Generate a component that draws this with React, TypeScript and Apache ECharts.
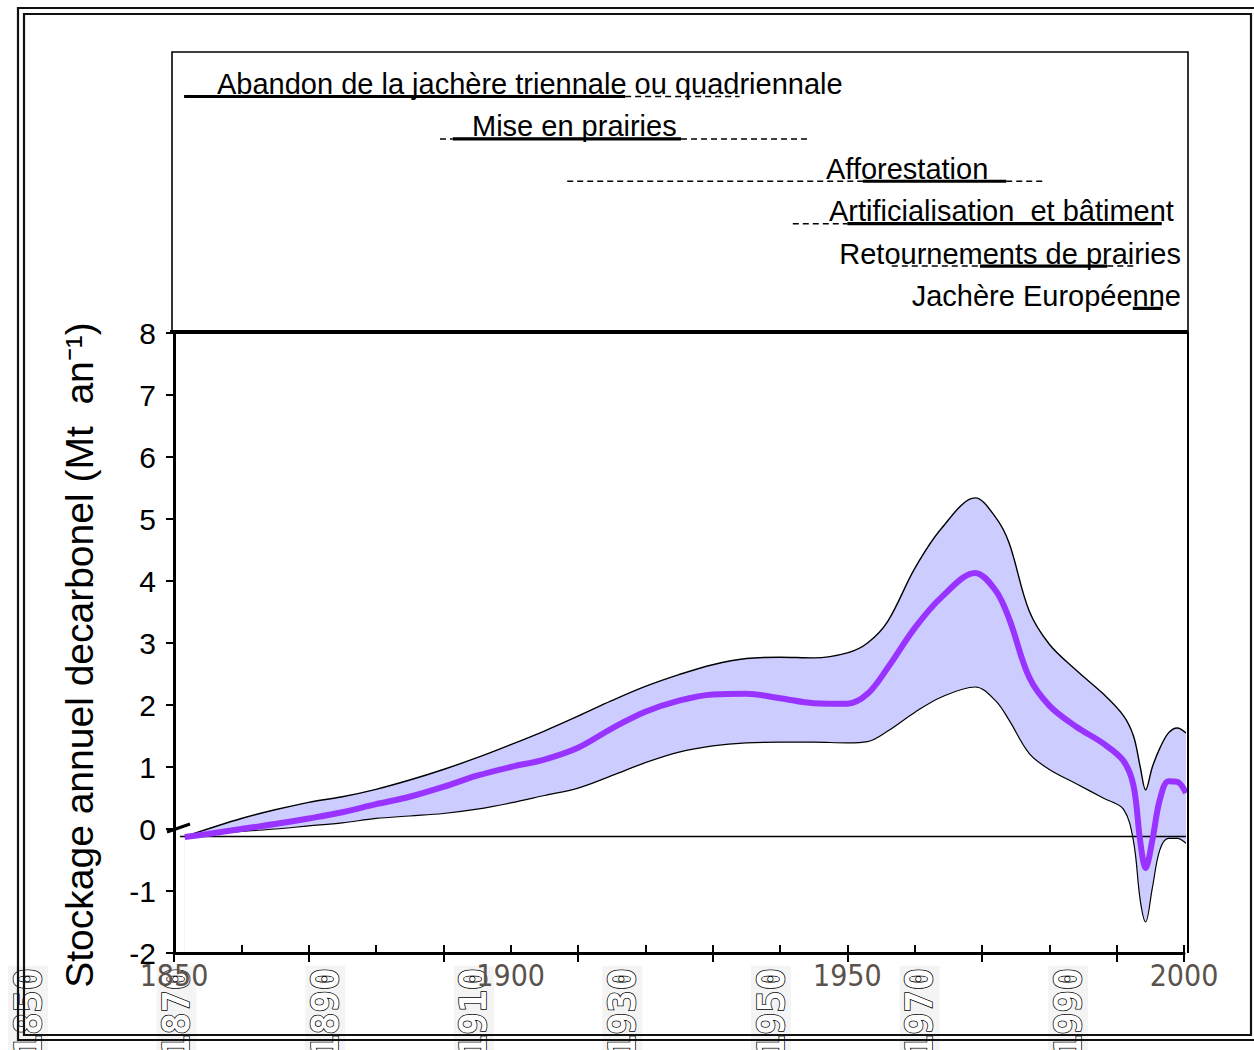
import React, { useEffect, useRef } from "react";
import * as echarts from "echarts";

// ---- data (years on x, Mt C per year on y) ----
const years = [1851.6, 1855, 1860, 1865, 1870, 1875, 1880, 1885, 1890, 1895, 1900, 1905, 1910, 1915, 1920, 1925, 1930, 1935, 1940, 1945, 1950, 1953, 1956, 1960, 1964, 1969, 1972, 1974, 1977, 1980, 1984, 1988, 1991, 1992.5, 1993.5, 1994.3, 1995.3, 1996.4, 1997.7, 1999, 2000.3];
const upperBound = [-0.12, 0.0, 0.17, 0.31, 0.43, 0.52, 0.64, 0.79, 0.96, 1.15, 1.36, 1.58, 1.82, 2.07, 2.3, 2.49, 2.65, 2.75, 2.77, 2.76, 2.84, 3.0, 3.35, 4.2, 4.85, 5.34, 5.03, 4.62, 3.52, 2.98, 2.56, 2.18, 1.83, 1.5, 1.0, 0.63, 1.0, 1.3, 1.55, 1.63, 1.55];
const meanStorage = [-0.13, -0.08, 0.0, 0.08, 0.17, 0.27, 0.4, 0.52, 0.68, 0.86, 1.0, 1.12, 1.31, 1.62, 1.89, 2.07, 2.17, 2.18, 2.11, 2.03, 2.02, 2.18, 2.6, 3.24, 3.74, 4.13, 3.85, 3.4, 2.45, 1.99, 1.65, 1.38, 1.1, 0.7, -0.2, -0.63, -0.18, 0.47, 0.77, 0.76, 0.58];
const lowerBound = [-0.13, -0.09, -0.04, 0.0, 0.05, 0.1, 0.17, 0.21, 0.25, 0.32, 0.42, 0.54, 0.66, 0.86, 1.07, 1.24, 1.34, 1.39, 1.4, 1.4, 1.39, 1.41, 1.58, 1.88, 2.13, 2.29, 2.07, 1.76, 1.22, 0.96, 0.73, 0.5, 0.32, -0.2, -1.15, -1.5, -0.95, -0.34, -0.15, -0.15, -0.23];
const zeroLineValue = -0.12;
const zeroLineYears = [1850.9, 2001.6];

const yMin = -2;
const yMax = 8;
const xMin = 1850;
const xMax = 2000;
const xLabelYears = [1850, 1900, 1950, 2000];

// activities timeline (row index, start year, end year)
const activities = [
  "Abandon de la jachère triennale ou quadriennale",
  "Mise en prairies",
  "Afforestation",
  "Artificialisation  et bâtiment",
  "Retournements de prairies",
  "Jachère Européenne",
];
const solidPeriods = [
  [0, 1851.5, 1917],
  [1, 1891.4, 1925.3],
  [2, 1952.3, 1973.6],
  [3, 1950, 1996.7],
  [4, 1969.7, 1988.6],
  [5, 1992.4, 1996.7],
];
const dashedPeriods = [
  [0, 1917, 1934],
  [1, 1889.5, 1891.4],
  [1, 1925.3, 1944.2],
  [2, 1908.4, 1952.3],
  [2, 1973.6, 1979.4],
  [3, 1941.9, 1950],
  [4, 1956.6, 1969.7],
  [4, 1988.6, 1992.9],
];

const stripLabels = ["1850", "1870", "1890", "1910", "1930", "1950", "1970", "1990"];

// ---- layout ----
const activityLabelPos = [
  { x: 217, y: 84, align: "left" },
  { x: 472, y: 126, align: "left" },
  { x: 826, y: 169, align: "left" },
  { x: 829, y: 211, align: "left" },
  { x: 1181, y: 254, align: "right" },
  { x: 1181, y: 296, align: "right" },
];

const FONT = '"Liberation Sans", Arial, sans-serif';

function buildOption() {
  const pair = (arr: number[]) => years.map((y, i) => [y, arr[i]]);

  const series: any[] = [
    {
      type: "line",
      xAxisIndex: 0,
      yAxisIndex: 0,
      data: pair(upperBound),
      smooth: 0.35,
      showSymbol: false,
      lineStyle: { color: "#000", width: 1.4 },
      areaStyle: { color: "#ccccff", opacity: 1, origin: "start" },
      z: 2,
    },
    {
      type: "line",
      xAxisIndex: 0,
      yAxisIndex: 0,
      data: pair(lowerBound),
      smooth: 0.35,
      showSymbol: false,
      lineStyle: { color: "#000", width: 1.2 },
      areaStyle: { color: "#ffffff", opacity: 1, origin: "start" },
      z: 3,
    },
    {
      type: "line",
      xAxisIndex: 0,
      yAxisIndex: 0,
      data: zeroLineYears.map((x) => [x, zeroLineValue]),
      clip: false,
      showSymbol: false,
      lineStyle: { color: "#000", width: 1.5 },
      z: 4,
    },
    {
      type: "line",
      xAxisIndex: 0,
      yAxisIndex: 0,
      data: pair(meanStorage),
      smooth: 0.35,
      showSymbol: false,
      lineStyle: { color: "#9933ff", width: 6 },
      z: 5,
    },
  ];

  solidPeriods.forEach(([row, a, b]) => {
    series.push({
      type: "line",
      xAxisIndex: 2,
      yAxisIndex: 1,
      data: [
        [a, row],
        [b, row],
      ],
      showSymbol: false,
      lineStyle: { color: "#000", width: 3.2 },
      z: 3,
    });
  });
  dashedPeriods.forEach(([row, a, b]) => {
    series.push({
      type: "line",
      xAxisIndex: 2,
      yAxisIndex: 1,
      data: [
        [a, row],
        [b, row],
      ],
      showSymbol: false,
      lineStyle: { color: "#000", width: 1.5, type: [6, 4] },
      z: 3,
    });
  });

  const graphics: any[] = [];

  // grey strips with rotated years at the bottom
  stripLabels.forEach((t, i) => {
    const cx = 28 + 148.6 * i;
    graphics.push({
      type: "rect",
      shape: { x: cx - 20, y: 966, width: 40, height: 90 },
      style: { fill: "#f4f4f4" },
      z: 0,
    });
    graphics.push({
      type: "text",
      x: cx,
      y: 968,
      rotation: Math.PI / 2,
      style: {
        text: t,
        font: 'bold 37px "DejaVu Sans Mono", monospace',
        fill: "#ffffff",
        stroke: "#000",
        lineWidth: 1.5,
        align: "right",
        verticalAlign: "middle",
      },
      z: 1,
    });
  });

  // frames
  graphics.push({
    type: "rect",
    shape: { x: 18, y: 8, width: 1250, height: 1032 },
    style: { fill: "none", stroke: "#111", lineWidth: 2.2 },
    z: 20,
  });
  graphics.push({
    type: "rect",
    shape: { x: 24, y: 14, width: 1227, height: 1021 },
    style: { fill: "none", stroke: "#111", lineWidth: 2.2 },
    z: 20,
  });
  graphics.push({
    type: "rect",
    shape: { x: 172, y: 52, width: 1016, height: 281 },
    style: { fill: "none", stroke: "#000", lineWidth: 1.6 },
    z: 20,
  });
  graphics.push({
    type: "line",
    shape: { x1: 170, y1: 332, x2: 1188, y2: 332 },
    style: { stroke: "#000", lineWidth: 4 },
    z: 20,
  });
  graphics.push({
    type: "line",
    shape: { x1: 1188, y1: 332, x2: 1188, y2: 953 },
    style: { stroke: "#000", lineWidth: 2 },
    z: 20,
  });
  graphics.push({
    type: "line",
    shape: { x1: 167, y1: 832, x2: 190, y2: 824 },
    style: { stroke: "#000", lineWidth: 3 },
    z: 20,
  });

  // y axis title
  graphics.push({
    type: "text",
    x: 79,
    y: 655,
    rotation: Math.PI / 2,
    style: {
      text: "Stockage annuel decarbonel (Mt  an\u207B\u00B9)",
      font: "39px " + FONT,
      fill: "#000",
      align: "center",
      verticalAlign: "middle",
    },
    z: 20,
  });

  // activity labels
  activities.forEach((t, i) => {
    const p = activityLabelPos[i];
    graphics.push({
      type: "text",
      x: p.x,
      y: p.y,
      style: {
        text: t,
        font: "29px " + FONT,
        fill: "#000",
        align: p.align,
        verticalAlign: "middle",
      },
      z: 20,
    });
  });

  return {
    animation: false,
    backgroundColor: "#ffffff",
    grid: [
      { left: 174, top: 333, width: 1010, height: 620, show: false },
      { left: 174, top: 52, width: 1010, height: 281, show: false },
    ],
    xAxis: [
      {
        gridIndex: 0,
        type: "value",
        min: xMin,
        max: xMax,
        interval: 10,
        position: "bottom",
        z: 10,
        axisLine: { show: true, onZero: false, lineStyle: { color: "#000", width: 3 } },
        axisTick: { show: true, inside: true, length: 8, lineStyle: { color: "#000", width: 2 } },
        axisLabel: {
          formatter: (v: number) => (xLabelYears.indexOf(v) >= 0 ? String(v) : ""),
          color: "#5a524c",
          fontFamily: '"Liberation Sans Narrow", "DejaVu Sans Condensed", sans-serif',
          fontSize: 30,
          margin: 7,
          showMinLabel: true,
          showMaxLabel: true,
        },
        splitLine: { show: false },
      },
      {
        // long ticks every 20 years, counted from 1850
        gridIndex: 0,
        type: "value",
        min: 0,
        max: xMax - xMin,
        interval: 20,
        position: "bottom",
        z: 10,
        axisLine: { show: false, onZero: false },
        axisTick: { show: true, inside: false, length: 9, lineStyle: { color: "#000", width: 2 } },
        axisLabel: { show: false },
        splitLine: { show: false },
      },
      { gridIndex: 1, type: "value", min: xMin, max: xMax, show: false },
    ],
    yAxis: [
      {
        gridIndex: 0,
        type: "value",
        min: yMin,
        max: yMax,
        interval: 1,
        z: 10,
        axisLine: { show: true, onZero: false, lineStyle: { color: "#000", width: 3 } },
        axisTick: { show: true, length: 8, lineStyle: { color: "#000", width: 2 } },
        axisLabel: { color: "#000", fontFamily: FONT, fontSize: 30, margin: 18 },
        splitLine: { show: false },
      },
      { gridIndex: 1, type: "value", min: -1.05, max: 5.58, inverse: true, show: false },
    ],
    series,
    graphic: { elements: graphics },
  };
}

export default function App() {
  const ref = useRef<HTMLDivElement>(null);
  useEffect(() => {
    if (!ref.current) return;
    const chart = echarts.init(ref.current, null, { renderer: "svg" });
    chart.setOption(buildOption() as any);
    return () => chart.dispose();
  }, []);
  return (
    <div
      ref={ref}
      style={{ position: "fixed", left: 0, top: 0, width: 1254, height: 1050, background: "#fff" }}
    />
  );
}
